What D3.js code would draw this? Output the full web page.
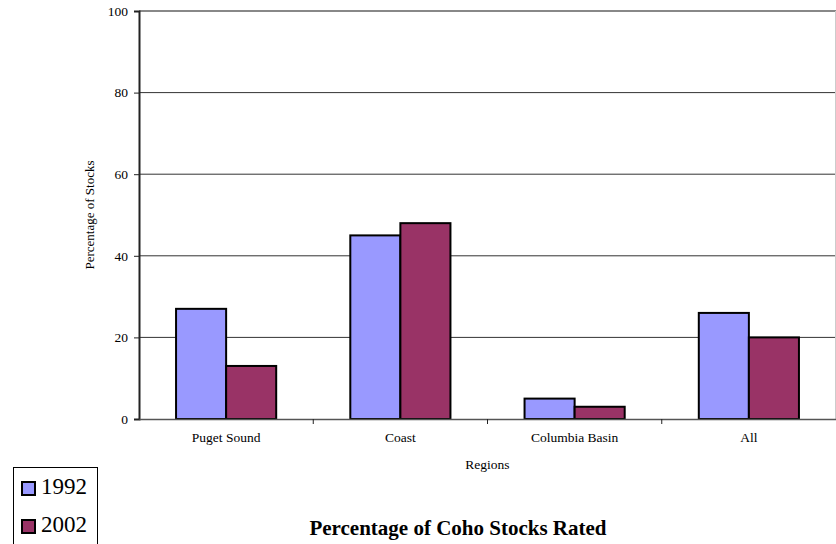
<!DOCTYPE html>
<html>
<head>
<meta charset="utf-8">
<script src="https://cdn.jsdelivr.net/npm/d3@7"></script>
<style>
  body { margin: 0; background: #fff; }
  svg text { font-family: 'Liberation Serif', 'Times New Roman', serif !important; }
</style>
</head>
<body>
<div id="chart"></div>
<script>
//* data
var regions = ["Puget Sound", "Coast", "Columbia Basin", "All"]
var years = ["1992", "2002"]
var values1992 = [27, 45, 5, 26]
var values2002 = [13, 48, 3, 20]
var yTicks = [0, 20, 40, 60, 80, 100]
var colors = ["#9999FF", "#993366"]

var width = 836, height = 544
var margin = {top: 11, right: 0, bottom: 125, left: 139}

var svg = d3.select("#chart").append("svg")
    .attr("width", width)
    .attr("height", height)

var x = d3.scaleBand()
    .domain(regions)
    .range([margin.left, width - margin.right])
    .paddingInner(0)
    .paddingOuter(0)

var sub = d3.scaleBand()
    .domain(years)
    .range([0, x.bandwidth()])
    .paddingInner(0)
    .paddingOuter(0.74)

var y = d3.scaleLinear()
    .domain([0, 100])
    .range([height - margin.bottom, margin.top])

// gridlines
svg.selectAll("line.grid")
    .data(yTicks.filter(function(d){ return d > 0 }))
    .enter().append("line")
    .attr("x1", margin.left).attr("x2", width)
    .attr("y1", function(d){ return y(d) }).attr("y2", function(d){ return y(d) })
    .attr("stroke", function(d){ return d == 100 ? "#888" : "#333" })
    .attr("stroke-width", function(d){ return d == 100 ? 2 : 1 })

// right border
svg.append("line")
    .attr("x1", width - 0.5).attr("x2", width - 0.5)
    .attr("y1", y(100)).attr("y2", y(0))
    .attr("stroke", "#ccc")

// bars
var rows = regions.map(function(r, i){ return {region: r, vals: [values1992[i], values2002[i]]} })
var g = svg.selectAll("g.region")
    .data(rows)
    .enter().append("g")
    .attr("transform", function(d){ return "translate(" + x(d.region) + ",0)" })

g.selectAll("rect")
    .data(function(d){ return d.vals.map(function(v, j){ return {year: years[j], v: v, j: j} }) })
    .enter().append("rect")
    .attr("x", function(d){ return sub(d.year) })
    .attr("y", function(d){ return y(d.v) })
    .attr("width", sub.bandwidth())
    .attr("height", function(d){ return y(0) - y(d.v) })
    .attr("fill", function(d){ return colors[d.j] })
    .attr("stroke", "#000")
    .attr("stroke-width", 2)

// y axis
var yAxis = svg.append("g")
    .attr("transform", "translate(" + margin.left + ",0)")
    .call(d3.axisLeft(y).tickValues(yTicks).tickSize(5).tickPadding(6))
yAxis.select(".domain").attr("stroke", "#222").attr("stroke-width", 2)
yAxis.selectAll("line").attr("stroke", "#222")
yAxis.selectAll("text").attr("font-size", "13.5px").attr("fill", "#000")

// x axis
var xAxis = svg.append("g")
    .attr("transform", "translate(0," + y(0) + ")")
    .call(d3.axisBottom(x).tickSize(0).tickPadding(13))
xAxis.select(".domain").attr("stroke", "#555").attr("stroke-width", 1.5)
xAxis.selectAll("text").attr("font-size", "13.5px").attr("fill", "#000")
// tick marks between categories
svg.selectAll("line.xtick")
    .data(regions.slice(1))
    .enter().append("line")
    .attr("x1", function(d){ return x(d) }).attr("x2", function(d){ return x(d) })
    .attr("y1", y(0)).attr("y2", y(0) + 5)
    .attr("stroke", "#222")

// axis titles
svg.append("text")
    .attr("transform", "translate(94," + ((y(0) + y(100)) / 2) + ") rotate(-90)")
    .attr("text-anchor", "middle")
    .attr("font-size", "13px")
    .text("Percentage of Stocks")

svg.append("text")
    .attr("x", (margin.left + width) / 2).attr("y", 469)
    .attr("text-anchor", "middle")
    .attr("font-size", "13.5px")
    .text("Regions")

svg.append("text")
    .attr("x", 458).attr("y", 535)
    .attr("text-anchor", "middle")
    .attr("font-size", "21px")
    .attr("font-weight", "bold")
    .text("Percentage of Coho Stocks Rated")

// legend
var leg = svg.append("g")
leg.append("rect")
    .attr("x", 13.5).attr("y", 467.5).attr("width", 84).attr("height", 90)
    .attr("fill", "#fff").attr("stroke", "#000")
years.forEach(function(yr, i){
    leg.append("rect")
        .attr("x", 22).attr("y", 482 + i * 38).attr("width", 13).attr("height", 13)
        .attr("fill", colors[i]).attr("stroke", "#000").attr("stroke-width", 2)
    leg.append("text")
        .attr("x", 41).attr("y", 494 + i * 38)
        .attr("font-size", "23px")
        .text(yr)
})
</script>
</body>
</html>
